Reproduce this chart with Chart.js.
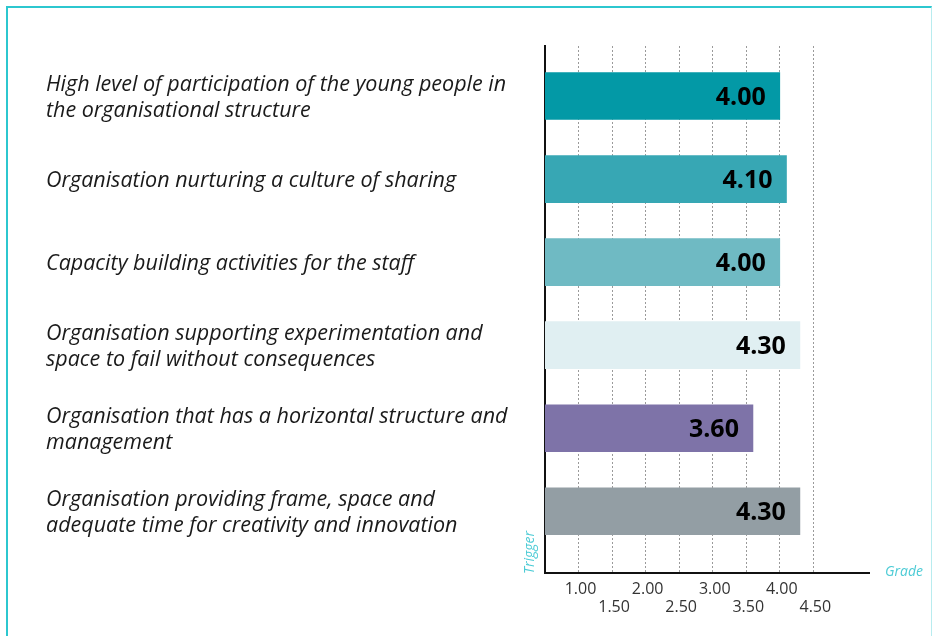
<!DOCTYPE html>
<html>
<head>
<meta charset="utf-8">
<script src="https://cdn.jsdelivr.net/npm/chart.js@4/dist/chart.umd.min.js"></script>
<style>
  html, body { margin: 0; padding: 0; background: #fff; }
  #wrap { position: relative; width: 932px; height: 636px; overflow: hidden; }
  #frame {
    position: absolute; left: 6px; top: 6px; width: 923px; height: 700px;
    border-top: 2px solid #2cc7cf; border-left: 2px solid #2cc7cf;
    border-right: 1px solid #b8ecef;
  }
  canvas { position: absolute; left: 0; top: 0; }
</style>
</head>
<body>
<div id="wrap">
  <div id="frame"></div>
  <canvas id="gradeChart" width="932" height="636"></canvas>
</div>
<script>
var categories = [
  ["High level of participation of the young people in", "the organisational structure"],
  ["Organisation nurturing a culture of sharing"],
  ["Capacity building activities for the staff"],
  ["Organisation supporting experimentation and", "space to fail without consequences"],
  ["Organisation that has a horizontal structure and", "management"],
  ["Organisation providing frame, space and", "adequate time for creativity and innovation"]
];
var grades = [4.00, 4.10, 4.00, 4.30, 3.60, 4.30];
var barColors = ["#0399a6", "#37a7b4", "#6fbac3", "#e0eff2", "#7e73a8", "#939ea4"];
var gradeTicks = [1.00, 1.50, 2.00, 2.50, 3.00, 3.50, 4.00, 4.50];

var teal = "#4ccbd5";
var sans = "'Open Sans', 'Noto Sans', sans-serif";

// value labels sit inside the right end of each bar
var valueLabels = {
  id: "valueLabels",
  afterDatasetsDraw: function (chart) {
    var ctx = chart.ctx;
    var meta = chart.getDatasetMeta(0);
    ctx.save();
    ctx.font = "bold 25px " + sans;
    ctx.fillStyle = "#000";
    ctx.textAlign = "right";
    ctx.textBaseline = "middle";
    meta.data.forEach(function (bar, i) {
      ctx.fillText(grades[i].toFixed(2), bar.x - 14, bar.y + 2);
    });
    ctx.restore();
  }
};

// axis titles: "Trigger" up the bottom of the y axis, "Grade" past the x axis end
var axisTitles = {
  id: "axisTitles",
  afterDraw: function (chart) {
    var ctx = chart.ctx;
    var area = chart.chartArea;
    ctx.save();
    ctx.font = "italic 14px " + sans;
    ctx.fillStyle = teal;
    ctx.textBaseline = "middle";
    ctx.textAlign = "left";
    ctx.fillText("Grade", area.right + 16, area.bottom - 1);
    ctx.translate(area.left - 15, area.bottom + 1);
    ctx.rotate(-Math.PI / 2);
    ctx.fillText("Trigger", 0, 0);
    ctx.restore();
  }
};

var points = grades.map(function (g, i) { return { x: g, y: i }; });

new Chart(document.getElementById("gradeChart"), {
  type: "bar",
  data: {
    datasets: [{
      data: points,
      backgroundColor: barColors,
      borderWidth: 0,
      barThickness: 47
    }]
  },
  options: {
    indexAxis: "y",
    responsive: false,
    animation: false,
    layout: { padding: { left: 46, right: 63, top: 46, bottom: 0 } },
    plugins: {
      legend: { display: false },
      tooltip: { enabled: false }
    },
    scales: {
      x: {
        type: "linear",
        min: 0.5,
        max: 5.33,
        afterBuildTicks: function (s) {
          s.ticks = gradeTicks.map(function (v) { return { value: v }; });
        },
        afterFit: function (s) { s.height = 63; },
        grid: { color: "#9a9a9a", lineWidth: 1, drawTicks: false },
        border: { display: true, color: "#111", width: 2, dash: [2, 2] },
        ticks: {
          padding: 7,
          labelOffset: 2,
          color: "#333",
          font: { family: sans, size: 16, lineHeight: 1.15 },
          maxRotation: 0,
          autoSkip: false,
          callback: function (v, i) {
            var t = Number(v).toFixed(2);
            return i % 2 === 0 ? [t, ""] : ["", t];
          }
        }
      },
      y: {
        type: "linear",
        reverse: true,
        offset: false,
        min: -0.602,
        max: 5.743,
        afterBuildTicks: function (s) {
          s.ticks = categories.map(function (c, i) { return { value: i }; });
        },
        afterFit: function (s) { s.width = 499; },
        grid: { display: false, drawTicks: false, offset: false },
        border: { display: true, color: "#111", width: 2 },
        ticks: {
          crossAlign: "far",
          labelOffset: 2,
          color: "#1a1a1a",
          font: { family: sans, size: 21.5, style: "italic", lineHeight: 26 / 21.5 },
          callback: function (v) { return categories[v] || ""; }
        }
      }
    }
  },
  plugins: [valueLabels, axisTitles]
});
</script>
</body>
</html>
